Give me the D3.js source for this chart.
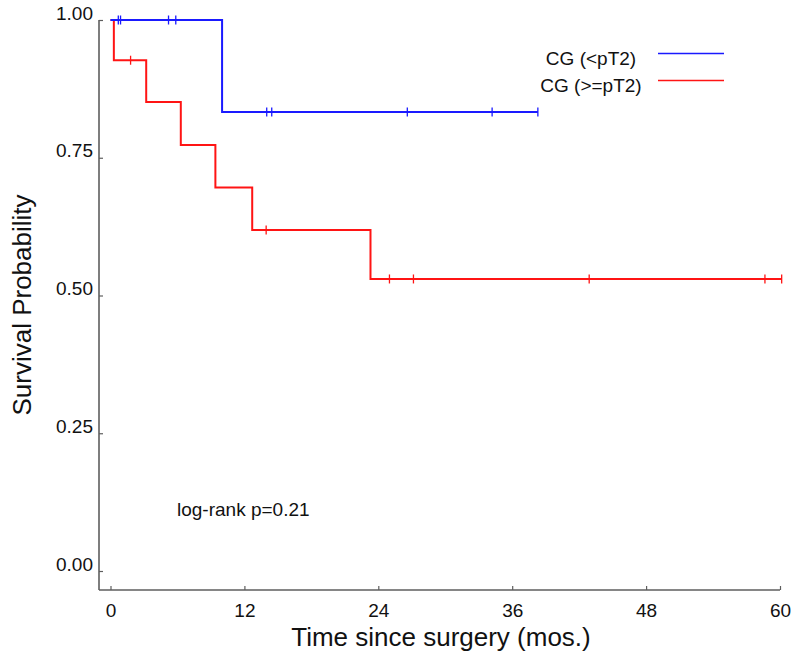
<!DOCTYPE html>
<html>
<head>
<meta charset="utf-8">
<script src="https://cdn.jsdelivr.net/npm/d3@7"></script>
<style>
  body { margin: 0; background: #fff; }
  text { font-family: "Liberation Sans", Arial, sans-serif; fill: #111; }
</style>
</head>
<body>
<div class="canvas"></div>
<script>
// data
const xTicks = [0, 12, 24, 36, 48, 60];
const yTicks = [0, 0.25, 0.5, 0.75, 1];

const seriesNames = ['CG (<pT2)', 'CG (>=pT2)'];
const seriesColors = ['#1a1aff', '#ff1414'];

// step curves: time where each level starts, and survival level
const blueTimes = [0, 10.0, 38.3];
const blueSurv = [1.0, 0.833, 0.833];
const blueCensor = [0.7, 0.9, 5.2, 5.85, 14.0, 14.45, 26.6, 34.2, 38.3];

const redTimes = [0, 0.3, 3.2, 6.3, 9.4, 12.7, 23.3, 60.15];
const redSurv = [1.0, 0.927, 0.851, 0.773, 0.696, 0.619, 0.530, 0.530];
const redCensor = [1.8, 13.95, 25.0, 27.15, 42.9, 58.65, 60.15];

const pText = 'log-rank p=0.21';

const svg = d3.select('.canvas')
  .append('svg')
    .attr('width', 800)
    .attr('height', 660);

// scales
const x = d3.scaleLinear().domain([0, 60]).range([110.5, 780]);
const y = d3.scaleLinear().domain([0, 1]).range([571, 20]);

const axisLeftX = 99;
const axisBottomY = 590;
const axisColor = '#5e5e5e';

// axes lines
svg.append('line')
  .attr('x1', axisLeftX).attr('x2', axisLeftX)
  .attr('y1', y(1)).attr('y2', axisBottomY)
  .attr('stroke', axisColor).attr('stroke-width', 1.6);

svg.append('line')
  .attr('x1', axisLeftX).attr('x2', x(60))
  .attr('y1', axisBottomY).attr('y2', axisBottomY)
  .attr('stroke', axisColor).attr('stroke-width', 1.6);

// x axis ticks (pointing inward)
const xAxis = d3.axisBottom(x)
  .tickValues(xTicks)
  .tickSizeInner(-4)
  .tickSizeOuter(0)
  .tickPadding(14);

const xAxisGroup = svg.append('g')
  .attr('transform', `translate(0, ${axisBottomY})`)
  .call(xAxis);
xAxisGroup.select('.domain').remove();
xAxisGroup.selectAll('line').attr('stroke', axisColor).attr('stroke-width', 1.2);
xAxisGroup.selectAll('text')
  .attr('font-size', 19)
  .attr('font-family', '"Liberation Sans", Arial, sans-serif')
  .attr('fill', '#111');

// y axis ticks
const yAxis = d3.axisLeft(y)
  .tickValues(yTicks)
  .tickSizeInner(-4)
  .tickSizeOuter(0)
  .tickPadding(6)
  .tickFormat(d3.format('.2f'));

const yAxisGroup = svg.append('g')
  .attr('transform', `translate(${axisLeftX}, 0)`)
  .call(yAxis);
yAxisGroup.select('.domain').remove();
yAxisGroup.selectAll('line').attr('stroke', axisColor).attr('stroke-width', 1.2);
yAxisGroup.selectAll('text')
  .attr('font-size', 19)
  .attr('font-family', '"Liberation Sans", Arial, sans-serif')
  .attr('fill', '#111')
  .attr('dy', '-0.05em');

// axis titles
svg.append('text')
  .attr('x', 441)
  .attr('y', 646)
  .attr('text-anchor', 'middle')
  .attr('font-size', 26)
  .text('Time since surgery (mos.)');

svg.append('text')
  .attr('transform', 'translate(31, 305) rotate(-90)')
  .attr('text-anchor', 'middle')
  .attr('font-size', 26)
  .text('Survival Probability');

// survival curves
const curves = [
  {times: blueTimes, surv: blueSurv, censor: blueCensor, color: seriesColors[0]},
  {times: redTimes, surv: redSurv, censor: redCensor, color: seriesColors[1]}
];

const line = d3.line()
  .x(d => x(d[0]))
  .y(d => y(d[1]))
  .curve(d3.curveStepAfter);

// level of a step curve at time t
const levelAt = (c, t) => {
  let s = c.surv[0];
  c.times.forEach((tt, i) => { if (tt <= t) s = c.surv[i]; });
  return s;
};

// draw red first so blue sits on top at the start
curves.slice().reverse().forEach(c => {
  svg.append('path')
    .datum(c.times.map((t, i) => [t, c.surv[i]]))
    .attr('d', line)
    .attr('fill', 'none')
    .attr('stroke', c.color)
    .attr('stroke-width', 2);

  svg.selectAll(null)
    .data(c.censor)
    .enter()
    .append('line')
      .attr('x1', d => x(d))
      .attr('x2', d => x(d))
      .attr('y1', d => y(levelAt(c, d)) - 4.5)
      .attr('y2', d => y(levelAt(c, d)) + 4.5)
      .attr('stroke', c.color)
      .attr('stroke-width', 1.3);
});

// legend
const legendY = [65, 92];
seriesNames.forEach((name, i) => {
  svg.append('text')
    .attr('x', 591)
    .attr('y', legendY[i])
    .attr('text-anchor', 'middle')
    .attr('font-size', 19)
    .text(name);
  svg.append('line')
    .attr('x1', 658).attr('x2', 724)
    .attr('y1', legendY[i] - 11.5).attr('y2', legendY[i] - 11.5)
    .attr('stroke', seriesColors[i])
    .attr('stroke-width', 1.5);
});

// p-value note
svg.append('text')
  .attr('x', 177)
  .attr('y', 516)
  .attr('font-size', 19)
  .text(pText);
</script>
</body>
</html>
